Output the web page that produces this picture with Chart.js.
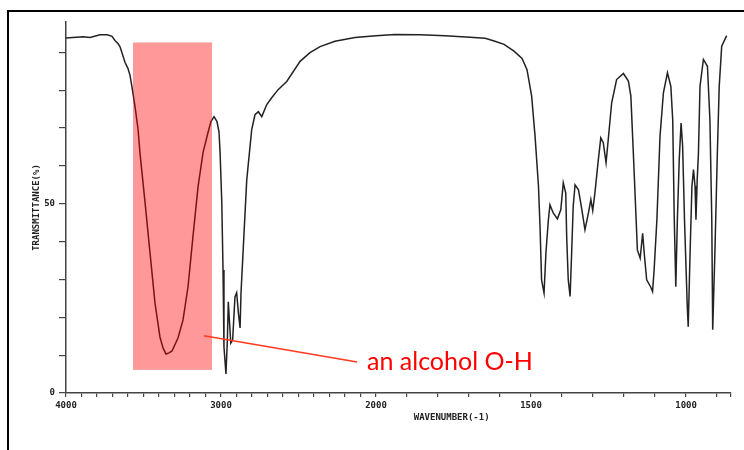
<!DOCTYPE html>
<html>
<head>
<meta charset="utf-8">
<title>IR spectrum</title>
<script src="https://cdn.jsdelivr.net/npm/chart.js@4.4.1/dist/chart.umd.min.js"></script>
<style>
  html, body { margin: 0; padding: 0; background: #fff; }
  canvas { display: block; }
</style>
</head>
<body>
<canvas id="irChart" width="744" height="450"></canvas>
<script>
// trace of the spectrum: wavenumber (cm-1) and transmittance (%)
const wavenumbers = [
  4000, 3890, 3845, 3781, 3735, 3703, 3684, 3665, 3652, 3639,
  3619, 3600, 3587, 3574, 3555, 3535, 3523, 3490, 3458, 3426,
  3394, 3374, 3355, 3335, 3316, 3277, 3245, 3213, 3181, 3148,
  3116, 3084, 3065, 3045, 3026, 3013, 3006, 2995, 2987, 2981,
  2968, 2959, 2953, 2946, 2937, 2925, 2910, 2899, 2888, 2877,
  2871, 2856, 2834, 2802, 2781, 2759, 2737, 2705, 2673, 2630,
  2576, 2490, 2426, 2361, 2265, 2136, 2000, 1939, 1858, 1777,
  1697, 1648, 1619, 1587, 1555, 1529, 1513, 1498, 1487, 1476,
  1471, 1466, 1458, 1452, 1444, 1439, 1428, 1415, 1404, 1396,
  1388, 1385, 1380, 1374, 1369, 1364, 1358, 1347, 1336, 1326,
  1315, 1307, 1301, 1294, 1283, 1275, 1267, 1258, 1251, 1240,
  1224, 1202, 1186, 1178, 1170, 1161, 1157, 1148, 1140, 1135,
  1127, 1114, 1108, 1103, 1094, 1084, 1073, 1060, 1049, 1043,
  1038, 1033, 1028, 1022, 1016, 1011, 1005, 996, 993, 987,
  981, 976, 971, 968, 964, 960, 955, 944, 931, 923,
  917, 914, 907, 899, 893, 885, 869
];
const transmittance = [
  93.8, 94.1, 93.9, 94.6, 94.6, 94.2, 93.1, 92.3, 91.5, 89.9,
  87.3, 85.7, 83.9, 80.7, 75.7, 69.6, 63.5, 50.3, 37.0, 23.8,
  14.8, 11.9, 10.3, 10.6, 11.1, 14.6, 19.3, 28.0, 41.3, 54.5,
  63.5, 68.8, 71.7, 73.0, 71.7, 69.0, 63.5, 50.3, 32.5, 12.2,
  5.0, 14.0, 24.1, 19.3, 13.2, 14.0, 25.4, 26.5, 21.2, 17.2,
  26.5, 38.6, 56.3, 69.6, 73.5, 74.3, 73.0, 76.2, 78.0, 80.2,
  82.3, 87.6, 89.9, 91.5, 92.9, 93.9, 94.4, 94.7, 94.6, 94.4,
  94.0, 93.7, 93.0, 92.1, 90.3, 88.4, 85.4, 78.4, 67.8, 54.6,
  44.0, 29.9, 26.4, 37.0, 45.8, 49.7, 47.5, 46.0, 48.4, 55.5,
  52.8, 41.3, 29.9, 25.5, 37.0, 49.3, 55.0, 53.7, 48.4, 43.1,
  47.5, 51.1, 48.2, 52.8, 61.6, 67.4, 66.1, 60.8, 66.9, 76.6,
  82.8, 84.4, 82.4, 78.4, 63.4, 45.8, 37.8, 35.6, 42.2, 37.0,
  29.9, 28.0, 26.8, 32.5, 45.8, 67.8, 79.3, 84.6, 81.0, 72.2,
  45.8, 28.1, 45.8, 61.6, 71.3, 65.2, 45.8, 22.8, 17.5, 37.0,
  54.6, 59.0, 54.6, 45.8, 56.3, 63.4, 81.0, 88.1, 86.3, 72.2,
  45.8, 16.7, 37.0, 63.4, 81.0, 91.6, 94.4
];

// x tick marks every 100 cm-1, numbers only on some of them
const tickWavenumbers = [
  4000, 3900, 3800, 3700, 3600, 3500, 3400, 3300, 3200, 3100,
  3000, 2900, 2800, 2700, 2600, 2500, 2400, 2300, 2200, 2100,
  2000, 1900, 1800, 1700, 1600, 1500, 1400, 1300, 1200, 1100,
  1000, 900
];
const labelledWavenumbers = [4000, 3000, 2000, 1500, 1000];
const axisEndWavenumber = 855;
const yTickLabels = [0, 50];

// highlighted O-H stretch band and its callout
const bandWavenumbers = [3568, 3058];
const bandTransmittance = [6.1, 92.6];
const calloutStart = [3110, 15.1];
const calloutEnd = [2122, 8.2];
const calloutTextAt = [2058, 6.1];
const calloutText = 'an alcohol O-H';

// the wavenumber axis is compressed by half above 2000 cm-1
function toAxis(w) {
  return w >= 2000 ? (4000 - w) / 2 : 1000 + (2000 - w);
}
function fromAxis(u) {
  return u <= 1000 ? 4000 - 2 * u : 2000 - (u - 1000);
}

const points = wavenumbers.map((w, i) => ({ x: toAxis(w), y: transmittance[i] }));

const pixelFont = 'bold 9px "DejaVu Sans Mono", monospace';

const decorations = {
  id: 'decorations',
  beforeDraw(chart) {
    const ctx = chart.ctx;
    ctx.save();
    ctx.fillStyle = '#fff';
    ctx.fillRect(0, 0, chart.width, chart.height);
    // outer frame
    ctx.strokeStyle = '#000';
    ctx.lineWidth = 2;
    ctx.beginPath();
    ctx.moveTo(8, chart.height);
    ctx.lineTo(8, 11);
    ctx.lineTo(chart.width, 11);
    ctx.stroke();
    ctx.restore();
  },
  afterDatasetsDraw(chart) {
    const ctx = chart.ctx;
    const xs = chart.scales.x;
    const ys = chart.scales.y;
    ctx.save();
    // band box
    const x0 = xs.getPixelForValue(toAxis(bandWavenumbers[0]));
    const x1 = xs.getPixelForValue(toAxis(bandWavenumbers[1]));
    const y0 = ys.getPixelForValue(bandTransmittance[1]);
    const y1 = ys.getPixelForValue(bandTransmittance[0]);
    ctx.fillStyle = 'rgba(255, 0, 0, 0.4)';
    ctx.fillRect(x0, y0, x1 - x0, y1 - y0);
    // callout line and label
    ctx.strokeStyle = '#ff3a1e';
    ctx.lineWidth = 1.5;
    ctx.beginPath();
    ctx.moveTo(xs.getPixelForValue(toAxis(calloutStart[0])), ys.getPixelForValue(calloutStart[1]));
    ctx.lineTo(xs.getPixelForValue(toAxis(calloutEnd[0])), ys.getPixelForValue(calloutEnd[1]));
    ctx.stroke();
    ctx.fillStyle = '#ff0000';
    ctx.font = '25px Lato, sans-serif';
    ctx.textAlign = 'left';
    ctx.textBaseline = 'alphabetic';
    ctx.fillText(calloutText, xs.getPixelForValue(toAxis(calloutTextAt[0])), ys.getPixelForValue(calloutTextAt[1]));
    ctx.restore();
  },
  afterDraw(chart) {
    const ctx = chart.ctx;
    const area = chart.chartArea;
    const ys = chart.scales.y;
    ctx.save();
    ctx.fillStyle = '#222';
    ctx.font = pixelFont;
    ctx.textAlign = 'center';
    ctx.textBaseline = 'middle';
    ctx.fillText('WAVENUMBER(-1)', area.left + (area.right - area.left) * 0.58, area.bottom + 25);
    ctx.translate(area.left - 29, ys.getPixelForValue(49));
    ctx.rotate(-Math.PI / 2);
    ctx.fillText('TRANSMITTANCE(%)', 0, 0);
    ctx.restore();
  }
};

new Chart(document.getElementById('irChart'), {
  type: 'line',
  data: {
    datasets: [{
      data: points,
      borderColor: '#222',
      borderWidth: 1.5,
      pointRadius: 0,
      tension: 0,
      fill: false
    }]
  },
  options: {
    responsive: false,
    devicePixelRatio: 1,
    animation: false,
    layout: { padding: { top: 22, right: 13, left: 0, bottom: 0 } },
    plugins: { legend: { display: false }, tooltip: { enabled: false } },
    scales: {
      x: {
        type: 'linear',
        min: 0,
        max: toAxis(axisEndWavenumber),
        afterFit: (scale) => { scale.height = 57; },
        afterBuildTicks: (scale) => {
          scale.ticks = tickWavenumbers.map(w => ({ value: toAxis(w) }))
            .concat([{ value: toAxis(axisEndWavenumber) }]);
        },
        border: { display: true, color: '#444', width: 1.5 },
        grid: { drawOnChartArea: false, drawTicks: true, tickLength: 4, color: '#444', lineWidth: 1.2 },
        ticks: {
          autoSkip: false,
          maxRotation: 0,
          padding: 3,
          color: '#222',
          font: { family: '"DejaVu Sans Mono", monospace', size: 9, weight: 'bold' },
          callback: (value) => {
            const w = Math.round(fromAxis(value));
            return labelledWavenumbers.includes(w) ? String(w) : '';
          }
        }
      },
      y: {
        min: 0,
        max: 98,
        afterFit: (scale) => { scale.width = 66; },
        border: { display: true, color: '#444', width: 1.5 },
        grid: { drawOnChartArea: false, drawTicks: true, tickLength: 7, color: '#444', lineWidth: 1.2 },
        ticks: {
          stepSize: 10,
          includeBounds: false,
          padding: 4,
          color: '#222',
          font: { family: '"DejaVu Sans Mono", monospace', size: 9, weight: 'bold' },
          callback: (value) => yTickLabels.includes(value) ? String(value) : ''
        }
      }
    }
  },
  plugins: [decorations]
});
</script>
</body>
</html>
